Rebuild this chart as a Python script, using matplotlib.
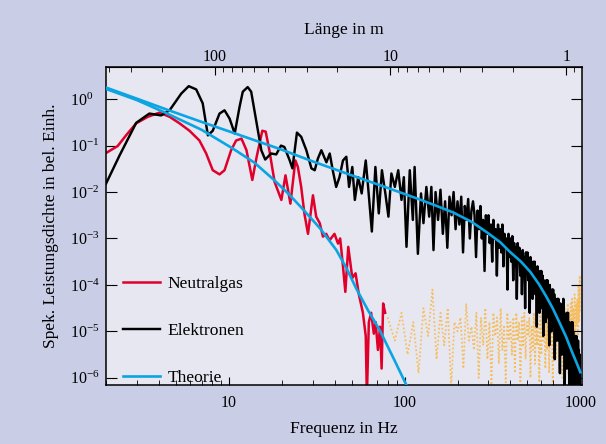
import numpy as np
import matplotlib
matplotlib.use('Agg')
import matplotlib.pyplot as plt
import matplotlib.ticker as mticker

plt.rcParams['font.family'] = ['Liberation Serif', 'DejaVu Serif']
plt.rcParams['mathtext.fontset'] = 'custom'
plt.rcParams['mathtext.rm'] = 'Liberation Serif'
plt.rcParams['mathtext.it'] = 'Liberation Serif:italic'

# Elektronen, niedrige Frequenzen (Hz, log10 Leistungsdichte)
elek_f_lo = [2.0, 2.39, 2.97, 3.53, 4.12, 4.6, 5.36, 5.91, 6.52, 7.1,
             7.6, 8.1, 8.85, 9.45, 10.1, 10.8, 11.5, 12.0, 12.8, 13.4,
             14.3, 15.3, 16.1, 17.4, 18.6, 19.8, 20.7, 22.2, 23.0, 24.4,
             25.8, 27.6, 29.5, 30.8, 32.1, 33.6, 35.9, 37.5, 39.0, 40.8,
             42.6, 44.6, 46.6, 48.3, 50.4, 52.1, 54.4, 57.0, 60.1, 62.0,
             65.1, 68.2, 71.3, 74.3, 77.7, 80.9, 84.1, 88.0, 92.0, 96.0,
             99.0, 102.5, 107, 111.4, 114, 119, 124, 128, 133, 138,
             142, 146]
elek_lp_lo = [-1.82, -1.21, -0.51, -0.31, -0.35, -0.24, 0.12, 0.28, 0.21, -0.09,
              -0.78, -0.68, -0.31, -0.24, -0.42, -0.74, -0.17, 0.16, 0.26, 0.16,
              -0.46, -1.1, -1.3, -1.17, -1.19, -1.0, -1.03, -1.32, -1.49, -0.72,
              -0.81, -1.1, -1.49, -1.53, -1.28, -1.1, -1.36, -1.17, -1.53, -1.89,
              -1.68, -1.32, -1.24, -1.89, -1.46, -2.17, -1.68, -2.03, -1.32, -1.89,
              -2.85, -1.46, -2.46, -1.53, -2.03, -2.53, -1.6, -1.89, -1.53, -2.17,
              -1.68, -3.18, -1.53, -2.6, -1.46, -3.33, -2.03, -2.67, -1.89, -2.53,
              -1.89, -3.25]

# Elektronen, 150..1000 Hz in 5-Hz-Schritten
elek_hf_start, elek_hf_step = 150, 5
elek_lp_hf = [
    -2.0, -2.6, -1.95, -2.9, -2.2, -3.2, -2.1, -2.5, -2.0, -2.8,
    -2.2, -2.7, -2.1, -3.3, -2.3, -2.6, -2.15, -3.0, -2.4, -2.2,
    -2.5, -3.4, -2.4, -2.8, -2.3, -3.0, -2.6, -3.7, -2.5, -2.9,
    -2.5, -3.1, -2.7, -3.5, -2.6, -3.0, -2.8, -3.8, -2.7, -3.2,
    -2.8, -3.3, -2.7, -3.6, -2.9, -3.2, -3.0, -4.1, -2.9, -3.4,
    -3.0, -3.5, -2.95, -3.9, -3.1, -3.6, -3.2, -4.3, -3.1, -3.5,
    -3.2, -3.8, -3.3, -4.2, -3.25, -3.6, -3.4, -4.5, -3.3, -3.7,
    -3.3, -3.9, -3.5, -4.6, -3.4, -3.8, -3.6, -4.3, -3.5, -4.0,
    -3.5, -4.2, -3.7, -4.9, -3.6, -4.0, -3.8, -4.6, -3.7, -4.3,
    -3.7, -4.5, -3.8, -5.1, -3.9, -4.2, -4.0, -4.8, -3.9, -4.4,
    -3.9, -4.7, -4.1, -5.3, -4.0, -4.5, -4.2, -5.0, -4.1, -4.6,
    -4.1, -4.9, -4.2, -5.6, -4.3, -4.7, -4.4, -5.2, -4.3, -4.8,
    -4.3, -5.2, -4.5, -5.9, -4.4, -5.0, -4.6, -5.5, -4.5, -5.1,
    -4.3, -5.5, -4.6, -6.2, -4.7, -5.3, -4.8, -5.8, -4.6, -5.4,
    -4.6, -5.8, -4.8, -6.3, -4.9, -5.6, -5.0, -6.3, -4.8, -5.7,
    -4.8, -6.3, -5.0, -5.8, -5.1, -6.4, -5.2, -5.9, -5.1, -6.4,
    -5.1, -6.4, -5.3, -6.4, -5.2, -5.9, -5.4, -6.4, -5.5, -6.3, -6.4]

# Neutralgas
neutral_f = [2.0, 2.33, 2.6, 2.97, 3.46, 4.03, 4.6, 5.24, 5.97, 6.8,
             7.43, 8.1, 8.85, 9.45, 10.3, 11.0, 11.8, 12.6, 13.6, 14.4,
             15.5, 16.2, 17.0, 18.2, 19.9, 21.0, 22.4, 23.9, 24.7, 25.8,
             26.9, 28.2, 30.1, 31.4, 32.9, 34.3, 35.8, 37.4, 39.9, 41.8,
             43.0, 44.6, 46.0, 47.8, 50.4, 52.6, 54.9, 57.9, 60.1, 61.0,
             62.6, 64.5, 66.8, 68.4, 70.5, 72.5, 74.0, 75.5, 77.5]
neutral_lp = [-1.16, -1.01, -0.78, -0.52, -0.38, -0.29, -0.38, -0.52, -0.68, -0.89,
              -1.17, -1.53, -1.62, -1.53, -1.1, -0.89, -0.85, -1.1, -1.74, -1.24,
              -0.68, -0.7, -1.1, -1.78, -2.17, -1.64, -2.25, -1.32, -1.46, -1.89,
              -2.46, -2.9, -2.07, -2.53, -2.67, -2.96, -2.9, -3.04, -2.9, -3.11,
              -3.0, -3.6, -4.15, -3.18, -3.85, -3.75, -4.2, -4.6, -5.1, -6.4,
              -4.8, -4.6, -5.05, -4.8, -5.4, -4.9, -5.8, -4.4, -4.6]

# Rauschen Neutralgas (gepunktet), 80..1000 Hz in 8-Hz-Schritten
rausch_start, rausch_step = 80, 8
rausch_lp = [
    -4.7, -5.2, -4.6, -5.5, -4.8, -5.9, -4.5, -5.1, -4.1, -5.6,
    -4.6, -5.3, -4.5, -6.2, -4.8, -5.0, -4.7, -5.8, -4.4, -5.2,
    -4.9, -5.4, -4.6, -6.0, -4.7, -5.3, -4.5, -5.6, -4.8, -6.2,
    -4.6, -5.1, -4.7, -5.7, -4.5, -5.4, -4.9, -6.1, -4.6, -5.2,
    -4.8, -5.5, -4.7, -5.9, -4.6, -5.2, -4.8, -6.2, -4.7, -5.3,
    -4.6, -5.6, -4.8, -5.1, -4.7, -6.0, -4.9, -5.4, -4.6, -5.7,
    -4.7, -5.3, -4.8, -6.1, -4.6, -5.5, -4.9, -5.2, -4.7, -5.8,
    -4.8, -5.4, -4.6, -5.9, -4.9, -5.3, -4.7, -6.2, -4.8, -5.5,
    -4.7, -5.6, -4.9, -5.2, -4.6, -5.8, -4.8, -5.4, -4.7, -6.0,
    -4.6, -5.3, -4.5, -5.7, -4.7, -5.2, -4.4, -5.9, -4.6, -5.1,
    -4.4, -5.2, -4.3, -5.6, -4.5, -5.0, -4.2, -5.4, -4.4, -4.9,
    -4.3, -5.1, -4.0, -4.8, -3.8, -4.6]

# Theorie
theoA_f = [2, 3, 4.4, 7, 10.5, 19.4, 30, 50, 80, 122, 150, 189, 240, 292, 350,
           398, 460, 519, 580, 642, 700, 765, 830, 889, 950, 1000]
theoA_lp = [0.25, 0.01, -0.22, -0.49, -0.72, -1.07, -1.34, -1.64, -1.91, -2.16,
            -2.29, -2.44, -2.64, -2.86, -3.08, -3.29, -3.5, -3.72, -3.98, -4.26,
            -4.52, -4.83, -5.12, -5.41, -5.67, -5.88]
theoB_f = [2, 3, 4.4, 7, 10.5, 14, 18.2, 22, 25.8, 33, 40.9, 47, 53.1, 62, 72.3,
           87, 102.5, 106]
theoB_lp = [0.22, -0.02, -0.3, -0.66, -1.06, -1.37, -1.75, -2.05, -2.33, -2.78,
            -3.25, -3.66, -4.08, -4.55, -4.98, -5.6, -6.16, -6.3]

x_ticks = [10, 100, 1000]
y_ticks = [1e-6, 1e-5, 1e-4, 1e-3, 1e-2, 1e-1, 1e0]
laenge_ticks = [1, 10, 100]

# Länge = v / f
v_welle = 830.0

elek_f = np.concatenate([elek_f_lo, elek_hf_start + elek_hf_step * np.arange(len(elek_lp_hf))])
elek_p = 10 ** np.concatenate([elek_lp_lo, elek_lp_hf])
rausch_f = rausch_start + rausch_step * np.arange(len(rausch_lp))

fig = plt.figure(figsize=(6.06, 4.44), dpi=100)
fig.patch.set_facecolor('#c9cde6')
ax = fig.add_axes([106 / 606, 1 - 385 / 444, 475.5 / 606, 318.3 / 444])
ax.set_facecolor('#e7e7f1')

ax.plot(rausch_f, 10 ** np.array(rausch_lp), color='#f6bd5c', lw=1.25,
        linestyle=(0, (1, 1.3)), zorder=1)
ax.plot(neutral_f, 10 ** np.array(neutral_lp), color='#e0002b', lw=1.8, zorder=2,
        label='Neutralgas')
ax.plot(elek_f, elek_p, color='black', lw=1.75, zorder=3, label='Elektronen')
ax.plot(theoA_f, 10 ** np.array(theoA_lp), color='#0aa5e2', lw=1.9, zorder=4,
        label='Theorie')
ax.plot(theoB_f, 10 ** np.array(theoB_lp), color='#0aa5e2', lw=1.9, zorder=4)

ax.set_xscale('log')
ax.set_yscale('log')
ax.set_xlim(2, 1015)
ax.set_ylim(7e-7, 5)

ax.yaxis.set_major_locator(mticker.FixedLocator(y_ticks))
ax.yaxis.set_minor_locator(mticker.NullLocator())
ax.yaxis.set_major_formatter(mticker.FuncFormatter(
    lambda v, p: r'$10^{%d}$' % int(round(np.log10(v)))))
ax.xaxis.set_major_locator(mticker.FixedLocator(x_ticks))
ax.xaxis.set_major_formatter(mticker.FuncFormatter(lambda v, p: '%g' % v))
ax.xaxis.set_minor_formatter(mticker.NullFormatter())

ax.tick_params(axis='both', which='both', direction='in', labelsize=11.5)
ax.tick_params(axis='x', which='major', length=6, pad=7.5, top=False)
ax.tick_params(axis='x', which='minor', length=3.5, top=False)
ax.tick_params(axis='y', which='major', length=8, right=True, pad=26)
for lab in ax.get_yticklabels():
    lab.set_horizontalalignment('left')

for sp in ax.spines.values():
    sp.set_linewidth(1.1)

sec = ax.secondary_xaxis('top', functions=(lambda f: v_welle / f, lambda l: v_welle / l))
sec.xaxis.set_major_locator(mticker.FixedLocator(laenge_ticks))
sec.xaxis.set_minor_locator(mticker.LogLocator(base=10, subs=np.arange(2, 10)))
sec.xaxis.set_major_formatter(mticker.FuncFormatter(lambda v, p: '%g' % v))
sec.xaxis.set_minor_formatter(mticker.NullFormatter())
sec.tick_params(axis='x', which='major', direction='in', length=6, pad=1, labelsize=11.5)
sec.tick_params(axis='x', which='minor', direction='in', length=3.5)
sec.set_xlabel('Länge in m', fontsize=12.6, labelpad=11)

ax.set_xlabel('Frequenz in Hz', fontsize=12.6, labelpad=7)
ax.set_ylabel('Spek. Leistungsdichte in bel. Einh.', fontsize=12.6, labelpad=8)

ax.legend(loc='center left', bbox_to_anchor=(17 / 475.5, 54 / 318.3), frameon=False,
          fontsize=12.6, handlelength=2.1, handletextpad=0.45, labelspacing=1.75,
          borderpad=0, borderaxespad=0)

fig.savefig('out.png', dpi=100, facecolor=fig.get_facecolor())
